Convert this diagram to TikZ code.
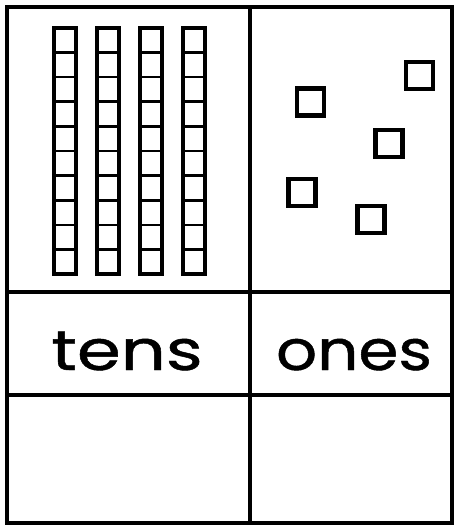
\documentclass[tikz,border=0pt]{standalone}
\usepackage{fontspec}
\newfontfamily\chartfont[FakeBold=0.8]{Poppins}
\usetikzlibrary{positioning}
\tikzset{
    gridline/.style={draw=black, line width=4.4pt},
    rodline/.style={draw=black, line width=3.6pt},
    cellline/.style={draw=black, line width=2.8pt},
    unitcube/.style={rectangle, draw=black, line width=4.2pt, minimum size=27pt, inner sep=0pt},
    placelabel/.style={font=\chartfont\fontsize{56}{56}\selectfont, anchor=base, inner sep=0pt},
}

\begin{document}
\begin{tikzpicture}[x=1pt, y=-1pt]
\useasboundingbox (0,0) rectangle (456,526);

% ===================== PLACE VALUE CHART =====================
\draw[gridline] (7,7) rectangle (452,523);
\draw[gridline] (250,7) -- (250,523);
\draw[gridline] (7,292) -- (452,292);
\draw[gridline] (7,395) -- (452,395);

% ===================== TENS RODS =====================
\foreach \i in {0,...,3} {
    \pgfmathsetmacro{\rx}{52+43*\i}
    \draw[rodline] (\rx+1.8,27.8) rectangle (\rx+24.2,274.2);
    \foreach \k in {1,...,9}
        \draw[cellline] (\rx+1.8,27.8+24.64*\k) -- (\rx+24.2,27.8+24.64*\k);
}

% ===================== ONES CUBES =====================
\node[unitcube] (one_a) at (419.5,75.5) {};
\node[unitcube] (one_b) at (310.5,102) {};
\node[unitcube] (one_c) at (389,143.5) {};
\node[unitcube] (one_d) at (302,192.5) {};
\node[unitcube] (one_e) at (371,219.5) {};

% Labels
\node[placelabel, xscale=1.26] (tens_lbl) at (127,370) {tens};
\node[placelabel, xscale=1.15] (ones_lbl) at (354,370) {ones};

\end{tikzpicture}
\end{document}
